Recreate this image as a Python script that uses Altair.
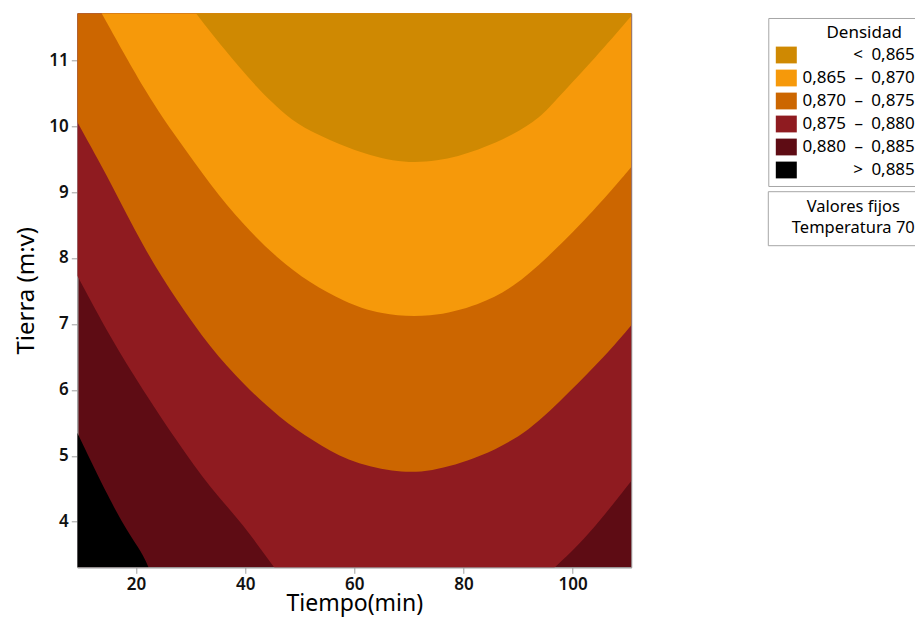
import altair as alt
import pandas as pd

# Plot ranges (Tiempo, Tierra)
X_MIN, X_MAX = 9.25, 110.75
Y_MIN, Y_MAX = 3.31, 11.71

bands = ["<\u20020,865", "0,865\u2002–\u20020,870", "0,870\u2002–\u20020,875",
         "0,875\u2002–\u20020,880", "0,880\u2002–\u20020,885", ">\u20020,885"]
colors = ["#CF8902", "#F6990A", "#CC6600", "#8F1B20", "#5E0C14", "#000000"]

x_ticks = [20, 40, 60, 80, 100]
y_ticks = [4, 5, 6, 7, 8, 9, 10, 11]

# contour boundaries (Tiempo, Tierra)
# 0,865 level
a_x = [31.0, 36.0, 42.1, 48.2, 52.5, 58.6, 67.2, 75.1, 83.0, 89.1, 94.0, 97.3, 104.1, 110.75]
a_y = [11.71, 11.18, 10.58, 10.10, 9.90, 9.67, 9.44, 9.45, 9.64, 9.87, 10.12, 10.43, 11.03, 11.67]
# 0,870 level
b_x = [13.7, 22.3, 27.5, 33.6, 39.7, 45.8, 51.9, 58.1, 64.7, 73.9, 83.0, 89.1, 95.3, 101.4, 107.5, 110.75]
b_y = [11.71, 10.43, 9.82, 9.11, 8.50, 8.00, 7.62, 7.34, 7.14, 7.09, 7.29, 7.55, 8.00, 8.50, 9.06, 9.38]
# 0,875 level
c_x = [9.25, 15.3, 21.4, 27.5, 33.6, 39.7, 46.4, 52.4, 58.6, 67.2, 73.9, 83.0, 92.2, 99.5, 105.9, 110.75]
c_y = [10.06, 9.16, 8.15, 7.35, 6.64, 6.08, 5.57, 5.23, 4.92, 4.75, 4.75, 4.97, 5.37, 5.98, 6.51, 6.98]
# 0,880 level (dips below the plotted range in the middle)
d_x = [9.25, 15.3, 21.4, 27.5, 33.6, 39.7, 45.2, 50.5, 91.0, 96.7, 102.5, 110.75]
d_y = [7.73, 6.79, 5.98, 5.22, 4.51, 3.96, 3.31, 2.75, 2.85, 3.31, 3.75, 4.62]
# 0,885 level
e_x = [9.25, 15.3, 18.4, 21.1, 22.3]
e_y = [5.35, 4.31, 3.86, 3.53, 3.31]

FONT = "Noto Sans"


def above(xs, ys, band):
    return pd.DataFrame({"x": xs, "y": ys, "y2": [Y_MAX] * len(xs), "band": band})


def below(xs, ys, band):
    return pd.DataFrame({"x": xs, "y": ys, "y2": [Y_MIN] * len(xs), "band": band})


xenc = alt.X("x:Q", scale=alt.Scale(domain=[X_MIN, X_MAX], nice=False, zero=False),
             axis=alt.Axis(values=x_ticks, title="Tiempo(min)"))
yenc = alt.Y("y:Q", scale=alt.Scale(domain=[Y_MIN, Y_MAX], nice=False, zero=False),
             axis=alt.Axis(values=y_ticks, title="Tierra (m:v)"))
cenc = alt.Color("band:N", scale=alt.Scale(domain=bands, range=colors),
                 legend=alt.Legend(
                     title="Densidad\u2002\u00a0\u200b",
                     orient="none", legendX=691, legendY=4.7,
                     symbolType="M-1,-0.8H1V0.8H-1Z", symbolSize=441,
                     symbolStrokeWidth=0, symbolOpacity=1,
                     labelAlign="right", labelOffset=118, labelLimit=300,
                     labelFontSize=17, labelFont=FONT, labelColor="#000",
                     titleFontSize=17, titleFont=FONT, titleFontWeight="normal",
                     titleColor="#000", titleAnchor="end", titleAlign="right",
                     titlePadding=2, rowPadding=4,
                     strokeColor="#a6a6a6", fillColor="white", padding=7.5))


def area_layer(df):
    return alt.Chart(df).mark_area(interpolate="basis", clip=True, opacity=1).encode(
        x=xenc, y=yenc, y2="y2:Q", color=cenc)


layers = [
    area_layer(below(e_x, e_y, bands[5])),
    area_layer(above(d_x, d_y, bands[3])),
    area_layer(above(c_x, c_y, bands[2])),
    area_layer(above(b_x, b_y, bands[1])),
    area_layer(above(a_x, a_y, bands[0])),
]

one = pd.DataFrame({"k": [0]})
box = alt.Chart(one).mark_rect(fill="white", stroke="#a6a6a6", strokeWidth=1).encode(
    x=alt.value(691), x2=alt.value(880), y=alt.value(178.4), y2=alt.value(232.4))
t1 = alt.Chart(one).mark_text(align="center", baseline="alphabetic", fontSize=16.5,
                              font=FONT, color="#000").encode(
    x=alt.value(776), y=alt.value(199), text=alt.value("Valores fijos"))
t2 = alt.Chart(one).mark_text(align="center", baseline="alphabetic", fontSize=16.5,
                              font=FONT, color="#000").encode(
    x=alt.value(776), y=alt.value(220), text=alt.value("Temperatura 70"))

chart = alt.layer(*layers, box, t1, t2).properties(
    width=554, height=554,
    autosize=alt.AutoSizeParams(type="none"),
    padding={"left": 69.3, "top": 5.3, "right": 284, "bottom": 50},
).configure_view(
    fill=colors[4], stroke="#a0a0a0", strokeWidth=1
).configure_axis(
    grid=False, domainColor="#a0a0a0", tickColor="#a0a0a0", tickSize=6,
    labelPadding=3, labelFont=FONT, labelFontSize=17, labelFontWeight=600,
    labelColor="#111",
    titleFont=FONT, titleFontSize=23, titleFontWeight="normal", titleColor="#000",
).configure_axisX(titlePadding=0).configure_axisY(titlePadding=10, titleFontSize=24)

chart.save("out.html", embed_options={"renderer": "svg", "actions": False})
